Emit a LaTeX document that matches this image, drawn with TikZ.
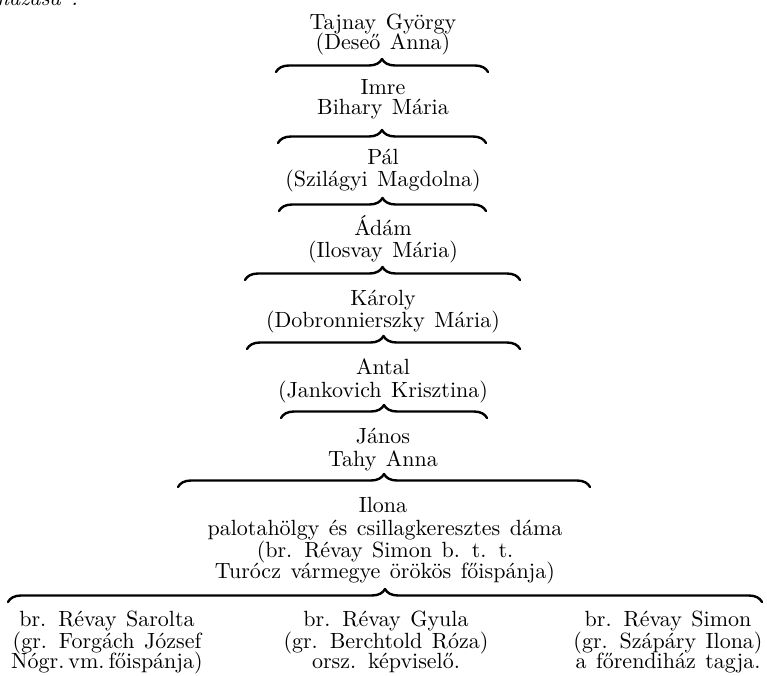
\documentclass[tikz,border=0pt]{standalone}
\usepackage{fontspec}
\setmainfont{lmroman10-regular.otf}[WordSpace=1.3, ItalicFont=lmroman10-italic.otf]
\usetikzlibrary{decorations.pathreplacing}
\tikzset{
  txt/.style={anchor=base, inner sep=0pt, outer sep=0pt,
    font=\fontsize{22}{24}\selectfont},
  famBrace/.style={line width=2.4pt, line cap=round, line join=round,
    decorate, decoration={brace, amplitude=13pt, aspect=0.5}},
}
\begin{document}
\begin{tikzpicture}[x=1pt, y=-1pt]
\fill[white] (0,0) rectangle (767,676);
\useasboundingbox (0,0) rectangle (767,676);

% cut-off heading at the top left
\node[txt, anchor=base west, font=\fontsize{22}{24}\selectfont\itshape] (head) at (-2,6) {házasa :};

% generation 1
\node[txt] (g1a) at (383,30) {Tajnay György};
\node[txt] (g1b) at (383,50) {(Deseő Anna)};
% generation 2
\node[txt] (g2a) at (383,95) {Imre};
\node[txt] (g2b) at (383,115) {Bihary Mária};
% generation 3
\node[txt] (g3a) at (383,165) {Pál};
\node[txt] (g3b) at (383,187) {(Szilágyi Magdolna)};
% generation 4
\node[txt] (g4a) at (383,235) {Ádám};
\node[txt] (g4b) at (383,257) {(Ilosvay Mária)};
% generation 5
\node[txt] (g5a) at (383,305) {Károly};
\node[txt] (g5b) at (383,327) {(Dobronnierszky Mária)};
% generation 6
\node[txt] (g6a) at (383,374) {Antal};
\node[txt] (g6b) at (383,397) {(Jankovich Krisztina)};
% generation 7
\node[txt] (g7a) at (383,443) {János};
\node[txt] (g7b) at (383,466) {Tahy Anna};
% generation 8
\node[txt] (g8a) at (383,512) {Ilona};
\node[txt] (g8b) at (385,535) {palotahölgy és csillagkeresztes dáma};
\node[txt] (g8c) at (385,557) {(br. Révay Simon b. t. t.};
\node[txt] (g8d) at (385,578) {Turócz vármegye örökös főispánja)};
% generation 9
\node[txt] (l1) at (107,626) {br. Révay Sarolta};
\node[txt] (l2) at (107,648) {(gr. Forgách József};
\node[txt] (l3) at (107,668) {Nógr.\hspace{4pt}vm.\hspace{4pt}főispánja)};
\node[txt] (m1) at (386,626) {br. Révay Gyula};
\node[txt] (m2) at (386,648) {(gr. Berchtold Róza)};
\node[txt] (m3) at (386,668) {orsz. képviselő.};
\node[txt] (r1) at (668,626) {br. Révay Simon};
\node[txt] (r2) at (668,648) {(gr. Szápáry Ilona)};
\node[txt] (r3) at (668,668) {a főrendiház tagja.};

% brace end points
\coordinate (b1l) at (276,72);  \coordinate (b1r) at (488,72);
\coordinate (b2l) at (278,143); \coordinate (b2r) at (486,143);
\coordinate (b3l) at (279,211); \coordinate (b3r) at (486,211);
\coordinate (b4l) at (245,280); \coordinate (b4r) at (520,280);
\coordinate (b5l) at (247,349); \coordinate (b5r) at (520,349);
\coordinate (b6l) at (281,418); \coordinate (b6r) at (487,418);
\coordinate (b7l) at (178,487); \coordinate (b7r) at (590,487);
\coordinate (b8l) at (8,602);   \coordinate (b8r) at (762,602);

\draw[famBrace] (b1l) -- (b1r);
\draw[famBrace] (b2l) -- (b2r);
\draw[famBrace] (b3l) -- (b3r);
\draw[famBrace] (b4l) -- (b4r);
\draw[famBrace] (b5l) -- (b5r);
\draw[famBrace] (b6l) -- (b6r);
\draw[famBrace] (b7l) -- (b7r);
\draw[famBrace] (b8l) -- (b8r);
\end{tikzpicture}
\end{document}
